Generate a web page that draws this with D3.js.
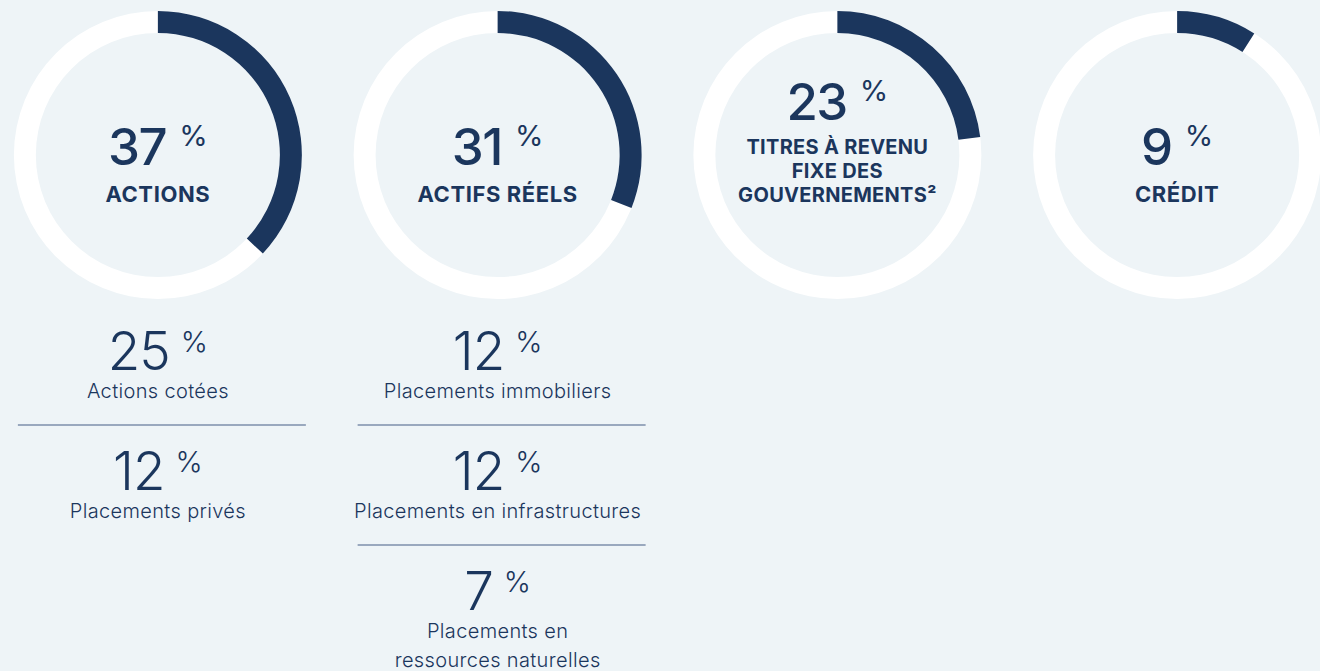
<!DOCTYPE html>
<html>
<head>
<meta charset="utf-8">
<script src="https://cdn.jsdelivr.net/npm/d3@7"></script>
<style>
  html, body { margin: 0; padding: 0; background: #eef4f7; }
  svg { display: block; }
  text { font-family: Inter, "Noto Sans", sans-serif; fill: #1b365d; }
</style>
</head>
<body>
<svg id="chart" width="1320" height="671"></svg>
<script>
// values
var categories = ["actions", "reels", "gouv", "credit"];
var shares = [37, 31, 23, 9];
var titleLines = [
    ["ACTIONS"],
    ["ACTIFS RÉELS"],
    ["TITRES À REVENU", "FIXE DES", "GOUVERNEMENTS²"],
    ["CRÉDIT"]
];
var subShares = [[25, 12], [12, 12, 7], [], []];
var subLabels = [
    [["Actions cotées"], ["Placements privés"]],
    [["Placements immobiliers"], ["Placements en infrastructures"], ["Placements en", "ressources naturelles"]],
    [],
    []
];

var navy = "#1b365d";
var svg = d3.select("#chart");

var x = d3.scaleBand().domain(categories).range([-12, 1347]);
var angle = d3.scaleLinear().domain([0, 100]).range([0, 2 * Math.PI]);

var cy = 155, outerR = 144, innerR = 122;
var arc = d3.arc().innerRadius(innerR).outerRadius(outerR).startAngle(0);

var cols = svg.selectAll(".col")
    .data(categories)
    .enter().append("g")
    .attr("class", "col")
    .attr("transform", d => `translate(${x(d) + x.bandwidth() / 2},0)`);

var donut = cols.append("g").attr("transform", `translate(0,${cy})`);
donut.append("path")
    .attr("fill", "#ffffff")
    .attr("d", arc.endAngle(2 * Math.PI)());
donut.append("path")
    .attr("fill", navy)
    .attr("d", (d, i) => arc.endAngle(angle(shares[i]))());

// big number in the middle
var multi = i => titleLines[i].length > 1;
var big = cols.append("text")
    .attr("text-anchor", "middle")
    .attr("y", (d, i) => multi(i) ? 120 : 165)
    .style("font-size", "51px")
    .style("font-weight", 500);
big.append("tspan").style("letter-spacing", "-1.5px").text((d, i) => shares[i]);
big.append("tspan")
    .attr("dx", 13)
    .attr("dy", -19)
    .style("font-size", "29px")
    .style("font-weight", 400)
    .text("%");

cols.each(function (d, i) {
    let g = d3.select(this);
    let y0 = multi(i) ? 154 : 202;
    titleLines[i].forEach(function (line, k) {
        g.append("text")
            .attr("text-anchor", "middle")
            .attr("y", y0 + k * 24)
            .style("font-size", multi(i) ? "20px" : "22px")
            .style("letter-spacing", multi(i) ? "0.3px" : "0.6px")
            .style("font-weight", 700)
            .text(line);
    });

    subShares[i].forEach(function (v, k) {
        let top = 310 + k * 120;
        if (k > 0) {
            g.append("line")
                .attr("x1", -140).attr("x2", 148)
                .attr("y1", top - 5).attr("y2", top - 5)
                .attr("stroke", "#7d8fab")
                .attr("stroke-width", 1.5);
        }
        let t = g.append("text")
            .attr("text-anchor", "middle")
            .attr("y", top + 60)
            .style("font-size", "53px")
            .style("font-weight", 300);
        t.append("tspan").style("letter-spacing", "-1px").text(v);
        t.append("tspan")
            .attr("dx", 11)
            .attr("dy", -18)
            .style("font-size", "29px")
            .text("%");
        subLabels[i][k].forEach(function (line, j) {
            g.append("text")
                .attr("text-anchor", "middle")
                .attr("y", top + 88 + j * 29)
                .style("font-size", "20px")
                .style("letter-spacing", "0.35px")
                .style("font-weight", 300)
                .text(line);
        });
    });
});
</script>
</body>
</html>
